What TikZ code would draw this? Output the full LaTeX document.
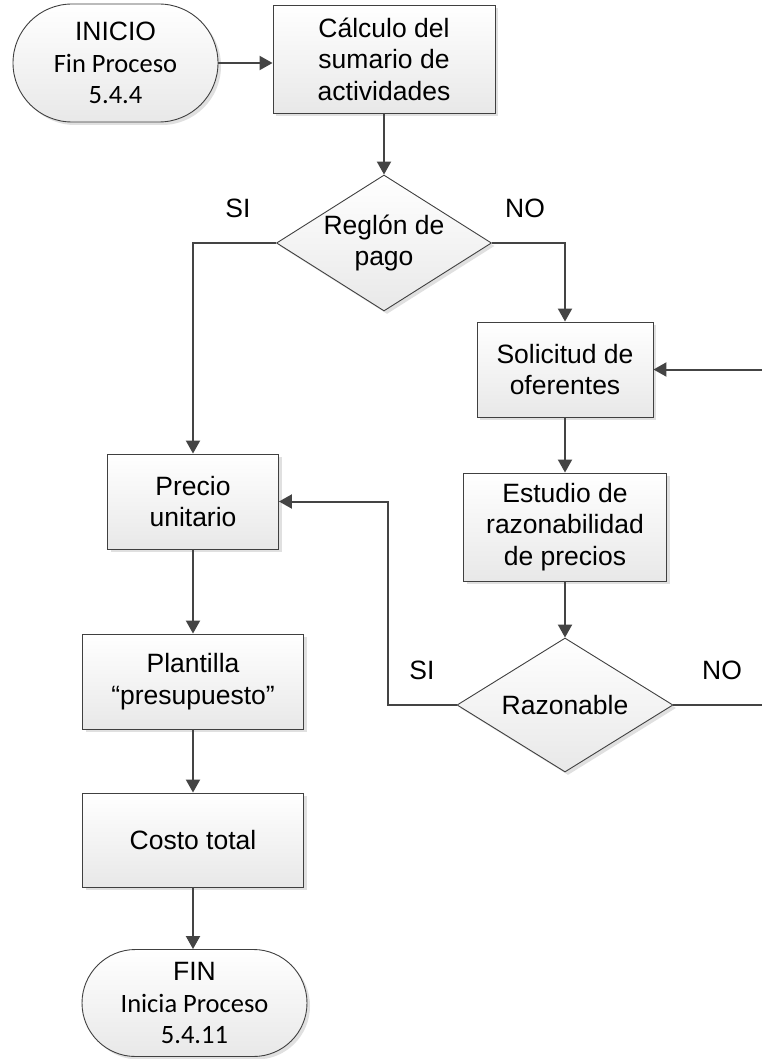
\documentclass[tikz,border=0pt]{standalone}
\usepackage{fontspec}
\setmainfont{Liberation Sans}
\newfontfamily\calibri{Carlito}
\usetikzlibrary{arrows.meta,shapes.geometric,shapes.misc,shadows}
\definecolor{edge}{HTML}{404040}
\definecolor{lnk}{HTML}{444444}
\tikzset{
  box/.style={draw=edge, line width=0.9pt, top color=white, bottom color=black!9,
    drop shadow={shadow xshift=3pt, shadow yshift=-3pt, fill=black!12, opacity=1},
    inner sep=0pt, align=center, font=\fontsize{26.5}{31.5}\selectfont},
  proc/.style={box, rectangle},
  term/.style={box, rounded rectangle},
  dec/.style={box, diamond},
  lbl/.style={font=\fontsize{26.5}{31.5}\selectfont, inner sep=0pt},
  conn/.style={draw=lnk, line width=2pt, -{Triangle[length=13pt,width=14pt]}},
}
\begin{document}
\begin{tikzpicture}[x=1pt,y=-1pt]
\useasboundingbox (0,0) rectangle (762,1059);
\clip (0,0) rectangle (762,1059);
\fill[white] (0,0) rectangle (762,1059);
% nodes
\node[term, minimum width=205pt, minimum height=118pt] (ini) at (115.5,63)
  {INICIO\\{\calibri Fin Proceso}\\{\calibri 5.4.4}};
\node[proc, minimum width=222pt, minimum height=108pt] (cal) at (384,59)
  {Cálculo del\\sumario de\\actividades};
\node[dec, minimum width=215pt, minimum height=136pt] (reg) at (384,243) {};
\node[lbl, align=center] (regt) at (384,243) {Reglón de\\pago};
\node[proc, minimum width=176pt, minimum height=95pt] (sol) at (565,369.5)
  {Solicitud de\\oferentes};
\node[proc, minimum width=203pt, minimum height=108pt] (est) at (565,527)
  {Estudio de\\razonabilidad\\de precios};
\node[dec, minimum width=216pt, minimum height=134pt] (raz) at (565,705) {};
\node[lbl] (razt) at (565,705) {Razonable};
\node[proc, minimum width=171pt, minimum height=95pt] (pre) at (193,501.5)
  {Precio\\unitario};
\node[proc, minimum width=221pt, minimum height=95pt] (pla) at (193,681.5)
  {Plantilla\\“presupuesto”};
\node[proc, minimum width=221pt, minimum height=94pt] (cos) at (193,840)
  {Costo total};
\node[term, minimum width=225pt, minimum height=107pt] (fin) at (194.5,1003)
  {FIN\\{\calibri Inicia Proceso}\\{\calibri 5.4.11}};
% labels
\node[lbl] (si1) at (238,208) {SI};
\node[lbl] (no1) at (525,208) {NO};
\node[lbl] (si2) at (422,670) {SI};
\node[lbl] (no2) at (722,670) {NO};
% connectors
\draw[conn] (ini.east) -- (ini.east -| cal.west);
\draw[conn] (cal.south) -- (reg.north);
\draw[conn] (reg.west) -| (pre.north);
\draw[conn] (reg.east) -| (sol.north);
\draw[conn] (sol.south) -- (est.north);
\draw[conn] (est.south) -- (raz.north);
\coordinate (k1) at (388,705);
\draw[conn] (raz.west) -- (k1) |- (pre.east);
\coordinate (k2) at (790,705);
\draw[conn] (raz.east) -- (k2) |- (sol.east);
\draw[conn] (pre.south) -- (pla.north);
\draw[conn] (pla.south) -- (cos.north);
\draw[conn] (cos.south) -- (cos.south |- fin.north);
\end{tikzpicture}
\end{document}
